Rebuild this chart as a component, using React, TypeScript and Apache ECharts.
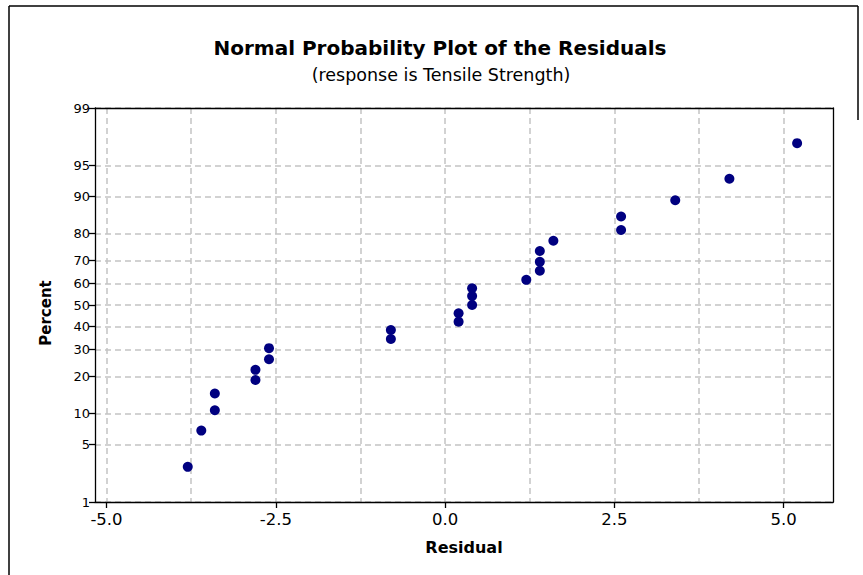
import React, { useEffect, useRef } from "react";
import * as echarts from "echarts";

// Data
const residuals = [
  -3.8, -3.6, -3.4, -3.4, -2.8, -2.8, -2.6, -2.6, -0.8, -0.8, 0.2, 0.2, 0.4,
  0.4, 0.4, 1.2, 1.4, 1.4, 1.4, 1.6, 2.6, 2.6, 3.4, 4.2, 5.2,
];
const percents = [
  2.8, 6.9, 10.7, 14.8, 18.8, 22.2, 26.1, 30.5, 34.4, 38.4, 42.2, 46.1, 50.0,
  54.2, 57.8, 61.7, 65.7, 69.5, 73.8, 77.6, 81.2, 85.2, 89.2, 93.2, 97.2,
];
const percentTicks = [1, 5, 10, 20, 30, 40, 50, 60, 70, 80, 90, 95, 99];
const xLabelTicks = [-5, -2.5, 0, 2.5, 5];
const xGridTicks = [-5, -3.75, -2.5, -1.25, 0, 1.25, 2.5, 3.75, 5];

// Inverse standard normal CDF (Acklam) used for the probability scale
function normInv(p: number): number {
  const a = [-3.969683028665376e1, 2.209460984245205e2, -2.759285104469687e2,
    1.38357751867269e2, -3.066479806614716e1, 2.506628277459239];
  const b = [-5.447609879822406e1, 1.615858368580409e2, -1.556989798598866e2,
    6.680131188771972e1, -1.328068155288572e1];
  const c = [-7.784894002430293e-3, -3.223964580411365e-1, -2.400758277161838,
    -2.549732539343734, 4.374664141464968, 2.938163982698783];
  const d = [7.784695709041462e-3, 3.224671290700398e-1, 2.445134137142996,
    3.754408661907416];
  const pl = 0.02425;
  let q: number, r: number;
  if (p < pl) {
    q = Math.sqrt(-2 * Math.log(p));
    return (((((c[0] * q + c[1]) * q + c[2]) * q + c[3]) * q + c[4]) * q + c[5]) /
      ((((d[0] * q + d[1]) * q + d[2]) * q + d[3]) * q + 1);
  }
  if (p <= 1 - pl) {
    q = p - 0.5;
    r = q * q;
    return (((((a[0] * r + a[1]) * r + a[2]) * r + a[3]) * r + a[4]) * r + a[5]) * q /
      (((((b[0] * r + b[1]) * r + b[2]) * r + b[3]) * r + b[4]) * r + 1);
  }
  q = Math.sqrt(-2 * Math.log(1 - p));
  return -(((((c[0] * q + c[1]) * q + c[2]) * q + c[3]) * q + c[4]) * q + c[5]) /
    ((((d[0] * q + d[1]) * q + d[2]) * q + d[3]) * q + 1);
}

const FONT = "'DejaVu Sans', Verdana, sans-serif";

export default function App() {
  const ref = useRef<HTMLDivElement>(null);
  useEffect(() => {
    if (!ref.current) return;
    const chart = echarts.init(ref.current, null, { renderer: "svg" });
    const zTicks = percentTicks.map((p) => normInv(p / 100));
    const zMin = normInv(0.01);
    const zMax = normInv(0.99);
    const labelFor = (v: number) => {
      let best = 0;
      let bd = Infinity;
      zTicks.forEach((z, i) => {
        const dd = Math.abs(z - v);
        if (dd < bd) { bd = dd; best = i; }
      });
      return String(percentTicks[best]);
    };
    const gridLine = { show: true, lineStyle: { color: "#c4c4c4", type: [6, 4], width: 1.5 } };
    const black = { color: "#000", width: 1.3 };
    chart.setOption({
      animation: false,
      backgroundColor: "#fff",
      textStyle: { fontFamily: FONT },
      grid: { left: 95, right: 30, top: 108, bottom: 73 },
      xAxis: [
        {
          type: "value",
          min: -5.17,
          max: 5.73,
          position: "bottom",
          axisLine: { show: true, onZero: false, lineStyle: black },
          axisTick: { show: true, length: 6, lineStyle: black, customValues: xLabelTicks },
          axisLabel: {
            customValues: xLabelTicks,
            formatter: (v: number) => v.toFixed(1),
            color: "#000",
            fontSize: 16.5,
            fontFamily: FONT,
            margin: 9,
          },
          splitLine: { show: false },
          name: "Residual",
          nameLocation: "middle",
          nameGap: 37,
          nameTextStyle: { fontSize: 16, fontWeight: "bold", color: "#000", fontFamily: FONT },
        },
        {
          type: "value",
          min: -5.17,
          max: 5.73,
          position: "top",
          axisLine: { show: true, onZero: false, lineStyle: black },
          axisTick: { show: false, customValues: xGridTicks },
          axisLabel: { show: false, customValues: xGridTicks },
          splitLine: gridLine,
        },
      ],
      yAxis: [
        {
          type: "value",
          min: zMin,
          max: zMax,
          position: "left",
          axisLine: { show: true, onZero: false, lineStyle: black },
          axisTick: { show: true, length: 6, lineStyle: black, customValues: zTicks },
          axisLabel: {
            customValues: zTicks,
            formatter: labelFor,
            color: "#000",
            fontSize: 13,
            fontFamily: FONT,
            margin: 5,
          },
          splitLine: gridLine,
        },
        {
          type: "value",
          min: zMin,
          max: zMax,
          position: "right",
          axisLine: { show: true, onZero: false, lineStyle: black },
          axisTick: { show: false },
          axisLabel: { show: false },
          splitLine: { show: false },
        },
      ],
      series: [
        {
          type: "scatter",
          xAxisIndex: 0,
          yAxisIndex: 0,
          symbol: "circle",
          symbolSize: 10,
          itemStyle: { color: "#000080", opacity: 1 },
          data: residuals.map((r, i) => [r, normInv(percents[i] / 100)]),
        },
      ],
      graphic: [
        {
          type: "text",
          x: 440,
          y: 48,
          style: {
            text: "Normal Probability Plot of the Residuals",
            font: `bold 20px ${FONT}`,
            fill: "#000",
            textAlign: "center",
            textVerticalAlign: "middle",
          },
        },
        {
          type: "text",
          x: 441,
          y: 75,
          style: {
            text: "(response is Tensile Strength)",
            font: `17.5px ${FONT}`,
            fill: "#000",
            textAlign: "center",
            textVerticalAlign: "middle",
          },
        },
        {
          type: "text",
          x: 46,
          y: 313,
          rotation: Math.PI / 2,
          style: {
            text: "Percent",
            font: `bold 15px ${FONT}`,
            fill: "#000",
            textAlign: "center",
            textVerticalAlign: "middle",
          },
        },
        { type: "line", shape: { x1: 9, y1: 6, x2: 9, y2: 575 }, style: { stroke: "#000", lineWidth: 1.5 } },
        { type: "line", shape: { x1: 9, y1: 6, x2: 858, y2: 6 }, style: { stroke: "#000", lineWidth: 1.5 } },
        { type: "line", shape: { x1: 858, y1: 6, x2: 858, y2: 120 }, style: { stroke: "#000", lineWidth: 1.5 } },
      ],
    });
    return () => chart.dispose();
  }, []);
  return (
    <div
      ref={ref}
      style={{ position: "fixed", left: 0, top: 0, width: 863, height: 575 }}
    />
  );
}
